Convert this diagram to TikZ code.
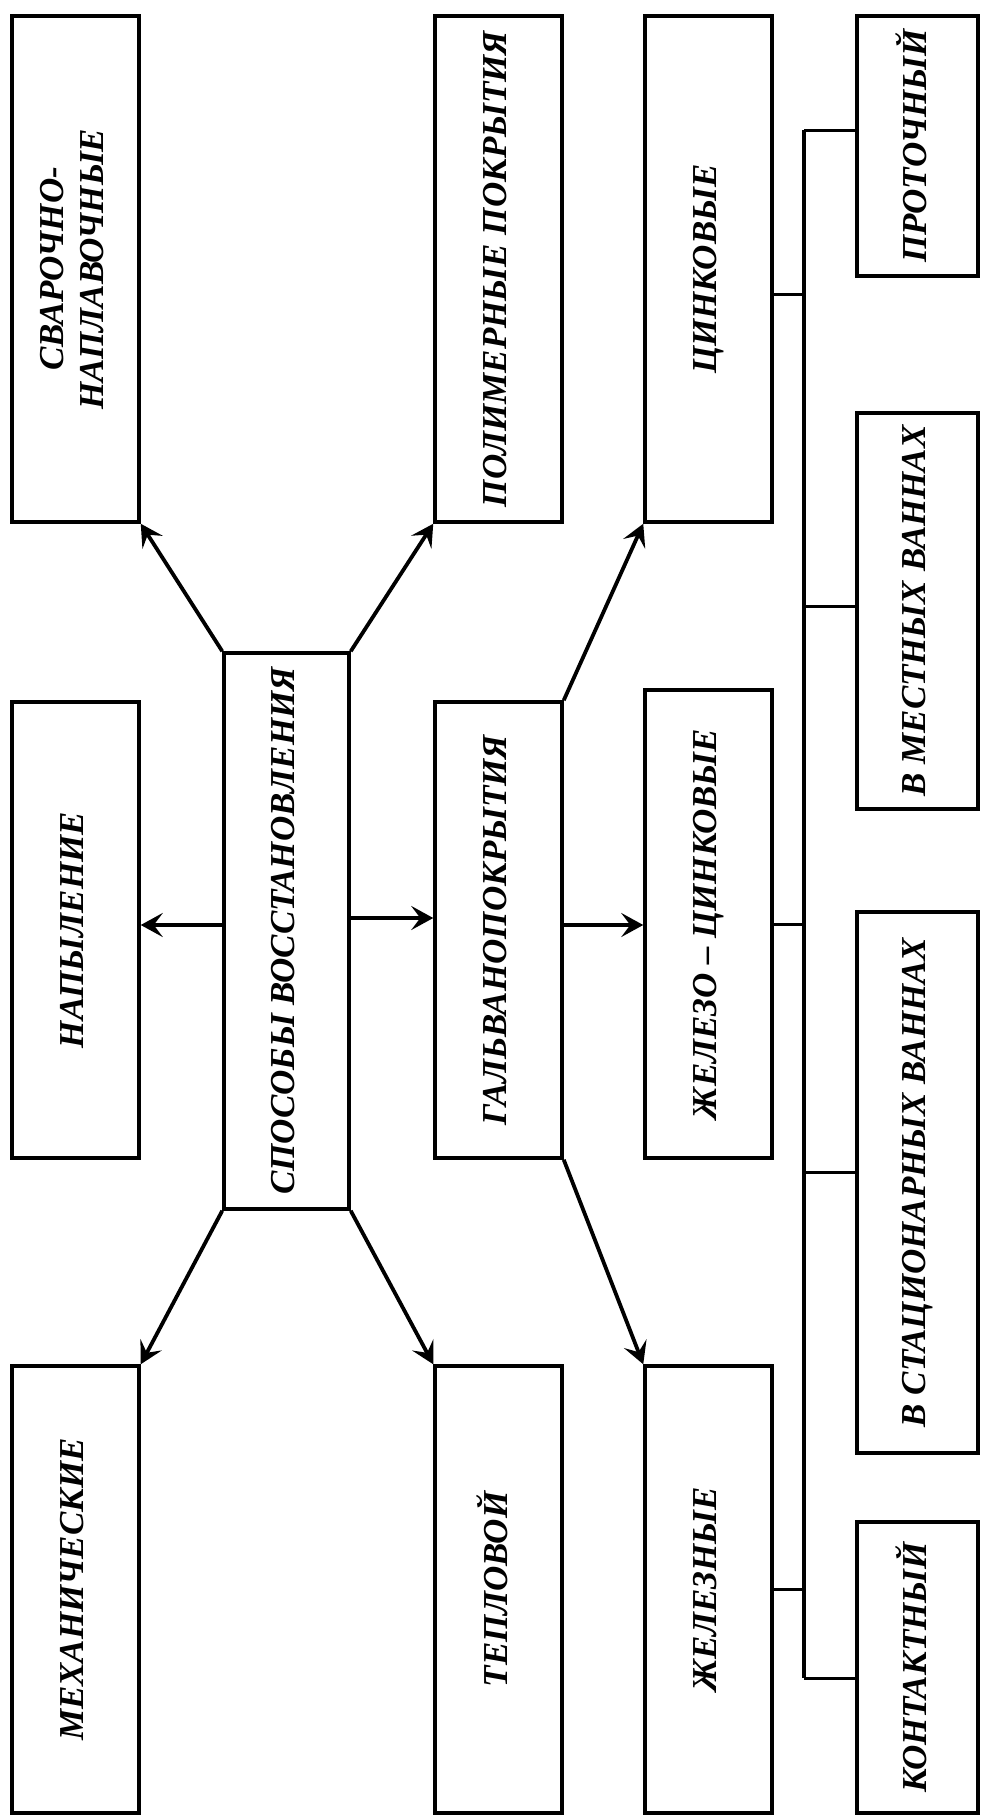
\documentclass[tikz,border=0pt]{standalone}
\usepackage{fontspec}
\setmainfont{Liberation Serif}
\usetikzlibrary{arrows.meta}

\tikzset{
    box/.style={draw, line width=3.5pt, inner sep=0pt, font=\fontsize{35}{40}\selectfont\bfseries\itshape},
    arr/.style={line width=3.8pt, -{Stealth[length=22pt,width=24pt,inset=9pt]}},
    conn/.style={line width=3pt},
    busline/.style={line width=4.5pt}
}

\newcommand{\vtext}[1]{\rotatebox{90}{\begin{tabular}{@{}c@{}}#1\end{tabular}}}

\begin{document}
\begin{tikzpicture}[x=1pt, y=-1pt]
    \useasboundingbox (0,0) rectangle (982,1818);

    % Center block
    \node[box, minimum width=125pt, minimum height=556pt] (sposob) at (286.5,931) {\vtext{СПОСОБЫ ВОССТАНОВЛЕНИЯ}};

    % Left and middle columns
    \node[box, minimum width=127pt, minimum height=506pt] (svar) at (75.5,269) {\vtext{СВАРОЧНО-\\НАПЛАВОЧНЫЕ}};
    \node[box, minimum width=127pt, minimum height=456pt] (napyl) at (75.5,930) {\vtext{НАПЫЛЕНИЕ}};
    \node[box, minimum width=127pt, minimum height=447pt] (mech) at (75.5,1589.5) {\vtext{МЕХАНИЧЕСКИЕ}};
    \node[box, minimum width=127pt, minimum height=506pt] (polim) at (498.5,269) {\vtext{ПОЛИМЕРНЫЕ ПОКРЫТИЯ}};
    \node[box, minimum width=127pt, minimum height=456pt] (galv) at (498.5,930) {\vtext{ГАЛЬВАНОПОКРЫТИЯ}};
    \node[box, minimum width=127pt, minimum height=447pt] (tepl) at (498.5,1589.5) {\vtext{ТЕПЛОВОЙ}};

    % Galvanic coatings
    \node[box, minimum width=127pt, minimum height=506pt] (zink) at (708.5,269) {\vtext{ЦИНКОВЫЕ}};
    \node[box, minimum width=127pt, minimum height=468pt] (zhelzink) at (708.5,924) {\vtext{ЖЕЛЕЗО – ЦИНКОВЫЕ}};
    \node[box, minimum width=127pt, minimum height=447pt] (zhel) at (708.5,1589.5) {\vtext{ЖЕЛЕЗНЫЕ}};

    % Baths
    \node[box, minimum width=121pt, minimum height=260pt] (prot) at (917.5,146) {\vtext{ПРОТОЧНЫЙ}};
    \node[box, minimum width=121pt, minimum height=396pt] (mest) at (917.5,611) {\vtext{В МЕСТНЫХ ВАННАХ}};
    \node[box, minimum width=121pt, minimum height=541pt] (stac) at (917.5,1182.5) {\vtext{В СТАЦИОНАРНЫХ ВАННАХ}};
    \node[box, minimum width=121pt, minimum height=291pt] (kont) at (917.5,1667.5) {\vtext{КОНТАКТНЫЙ}};

    % Arrows
    \draw[arr] (sposob.north west) -- (svar.south east);
    \draw[arr] (sposob.north east) -- (polim.south west);
    \draw[arr] ([yshift=6pt]sposob.west) -- ([yshift=6pt]sposob.west -| napyl.east);
    \draw[arr] ([yshift=13pt]sposob.east) -- ([yshift=13pt]sposob.east -| galv.west);
    \draw[arr] (sposob.south west) -- (mech.north east);
    \draw[arr] (sposob.south east) -- (tepl.north west);
    \draw[arr] (galv.north east) -- (zink.south west);
    \draw[arr] ([yshift=5pt]galv.east) -- ([yshift=5pt]galv.east -| zhelzink.west);
    \draw[arr] (galv.south east) -- (zhel.north west);

    % Bus
    \coordinate (busT) at (804,130);
    \coordinate (busB) at (804,1678);
    \draw[busline] (busT) -- (busB);
    \draw[conn] ([yshift=-25pt]zink.east) -- ([yshift=-25pt]zink.east -| busT);
    \draw[conn] (zhelzink.east) -- (zhelzink.east -| busT);
    \draw[conn] (zhel.east) -- (zhel.east -| busT);
    \draw[conn] (busT) -- (busT -| prot.west);
    \draw[conn] ([yshift=5pt]mest.west) -- ([yshift=5pt]mest.west -| busT);
    \draw[conn] ([yshift=10pt]stac.west) -- ([yshift=10pt]stac.west -| busT);
    \draw[conn] (busB) -- (busB -| kont.west);

\end{tikzpicture}
\end{document}
